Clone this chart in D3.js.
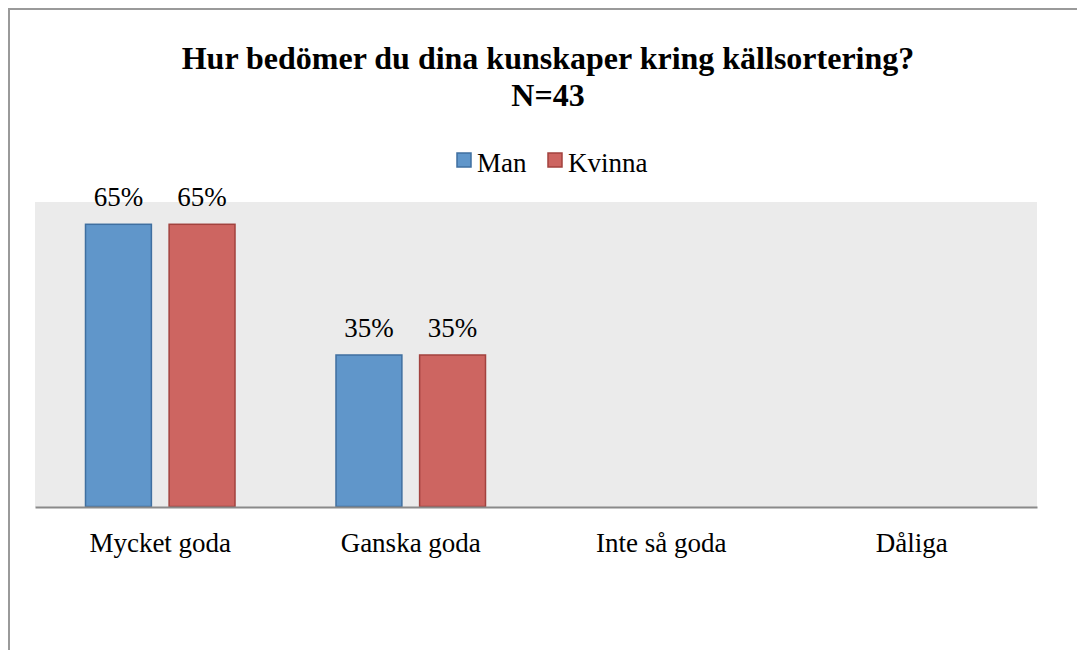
<!DOCTYPE html>
<html lang="sv">
<head>
<meta charset="UTF-8">
<title>Hur bedömer du dina kunskaper kring källsortering?</title>
<script src="https://d3js.org/d3.v7.min.js"></script>
<style>
    body { margin: 0; background: #fff; }
    svg { display: block; }
    .cat text, .lbl, .legend text { font-family: 'Liberation Serif', serif; fill: #000; }
</style>
</head>
<body>
<svg id="chart" width="1077" height="650"></svg>
<script>
// data
const categories = ['Mycket goda', 'Ganska goda', 'Inte så goda', 'Dåliga'];
const seriesNames = ['Man', 'Kvinna'];
const manValues = [65, 35, null, null];
const kvinnaValues = [65, 35, null, null];
const titleLines = ['Hur bedömer du dina kunskaper kring källsortering?', 'N=43'];

const colors = { Man: '#6096ca', Kvinna: '#cd6561' };
const strokes = { Man: '#3f6fa0', Kvinna: '#a2423e' };
const labelFont = 27;

const svg = d3.select('#chart');

// outer frame
svg.append('path')
    .attr('d', 'M9,650 V9 H1077')
    .attr('fill', 'none')
    .attr('stroke', '#9a9a9a')
    .attr('stroke-width', 2);

const margin = { top: 202, left: 35, right: 40, bottom: 143 };
const width = 1077 - margin.left - margin.right;
const height = 650 - margin.top - margin.bottom;

const g = svg.append('g').attr('transform', `translate(${margin.left},${margin.top})`);

g.append('rect')
    .attr('width', width)
    .attr('height', height)
    .attr('fill', '#ebebeb');

const x0 = d3.scaleBand().domain(categories).range([0, width]);
const x1 = d3.scaleBand().domain(seriesNames).range([50, x0.bandwidth() - 50]).paddingInner(0.2);
const y = d3.scaleLinear().domain([0, 70]).range([height, 0]);

const rows = categories.map((c, i) => ({
    cat: c,
    vals: [{ s: 'Man', v: manValues[i] }, { s: 'Kvinna', v: kvinnaValues[i] }]
}));

const grp = g.selectAll('.grp').data(rows).enter().append('g')
    .attr('class', 'grp')
    .attr('transform', d => `translate(${x0(d.cat)},0)`);

const bars = grp.selectAll('rect').data(d => d.vals.filter(v => v.v != null)).enter();

bars.append('rect')
    .attr('x', d => x1(d.s) + 0.5)
    .attr('y', d => y(d.v) + 0.5)
    .attr('width', x1.bandwidth() - 1)
    .attr('height', d => height - y(d.v) - 1)
    .attr('fill', d => colors[d.s])
    .attr('stroke', d => strokes[d.s])
    .attr('stroke-width', 1.5);

bars.append('text')
    .attr('class', 'lbl')
    .attr('x', d => x1(d.s) + x1.bandwidth() / 2)
    .attr('y', d => y(d.v) - 18)
    .attr('text-anchor', 'middle')
    .attr('font-size', labelFont)
    .text(d => d.v + '%');

// x axis
const xAxis = g.append('g')
    .attr('class', 'cat')
    .attr('transform', `translate(0,${height})`)
    .call(d3.axisBottom(x0).tickSize(0).tickPadding(26));
xAxis.select('.domain').attr('stroke', '#8a8a8a').attr('stroke-width', 2);
xAxis.selectAll('text').attr('font-size', labelFont).attr('font-family', "'Liberation Serif', serif");

// title
svg.append('g').selectAll('text').data(titleLines).enter().append('text')
    .attr('x', 548)
    .attr('y', (d, i) => 69 + i * 37)
    .attr('text-anchor', 'middle')
    .attr('font-family', "'Liberation Serif', 'Times New Roman', serif")
    .attr('font-weight', 'bold')
    .attr('font-size', 32)
    .text(d => d);

// legend
const legend = svg.append('g').attr('class', 'legend');
const legX = [457, 548];
seriesNames.forEach((s, i) => {
    const lg = legend.append('g').attr('transform', `translate(${legX[i]},153)`);
    lg.append('rect')
        .attr('width', 14).attr('height', 14)
        .attr('fill', colors[s]).attr('stroke', strokes[s]).attr('stroke-width', 1.5);
    lg.append('text')
        .attr('x', 20).attr('y', 19)
        .attr('font-size', labelFont)
        .text(s);
});
</script>
</body>
</html>
